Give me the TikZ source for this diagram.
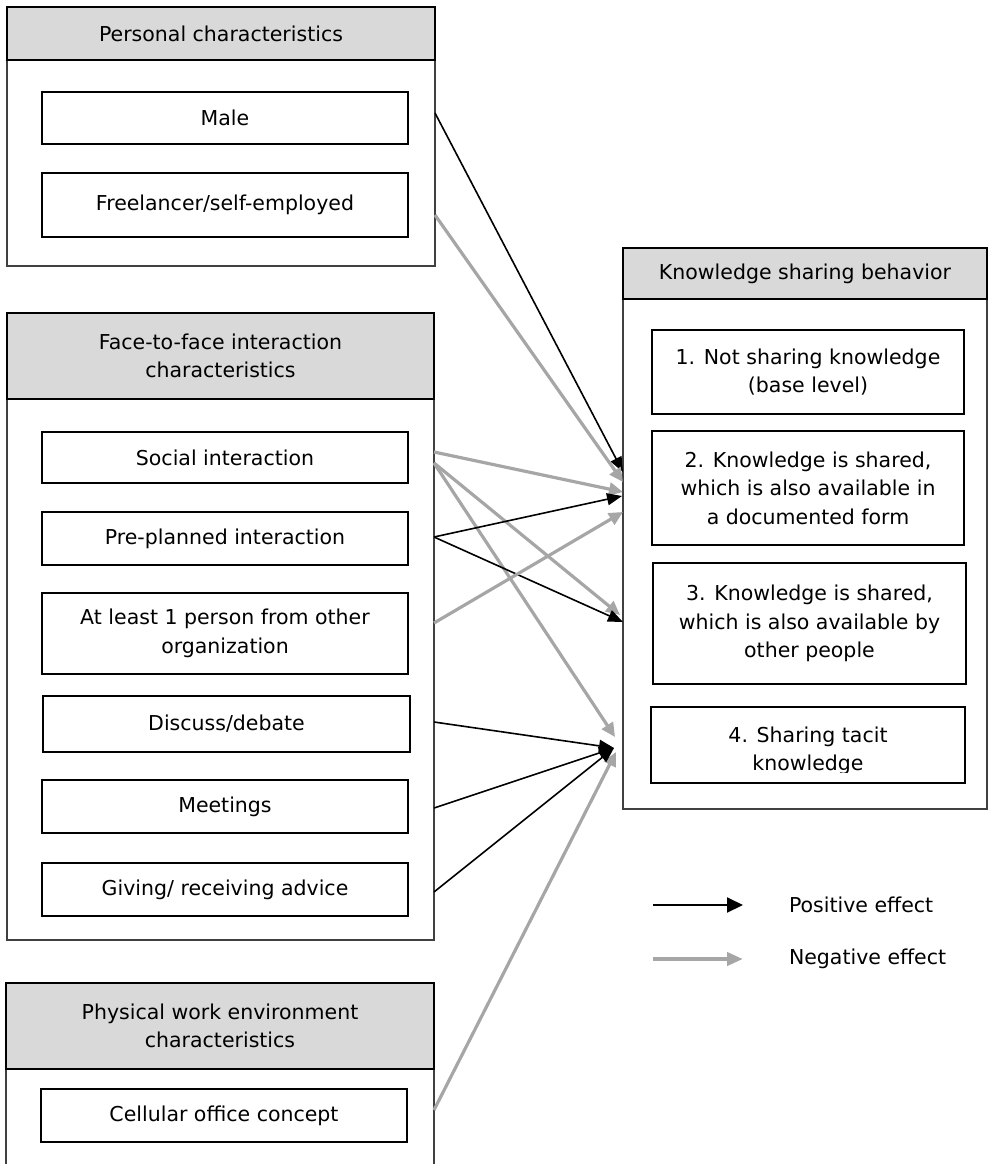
\documentclass[tikz,border=0pt]{standalone}
\usepackage{fontspec}
\setmainfont{DejaVu Sans}
\usetikzlibrary{arrows.meta,calc}
\definecolor{hdrgray}{HTML}{D9D9D9}
\definecolor{arrgray}{HTML}{A6A6A6}
\definecolor{framegray}{HTML}{404040}

\begin{document}
\begin{tikzpicture}[x=1pt,y=-1pt,
  every node/.style={font=\fontsize{20.5pt}{28.5pt}\selectfont, inner sep=0pt, outer sep=0pt},
  group/.style={draw=framegray, line width=1.2pt, rectangle, anchor=north west},
  header/.style={draw=black, line width=2pt, fill=hdrgray, align=center, anchor=north west},
  item/.style={draw=black, line width=2pt, fill=white, align=center, anchor=north west},
  poseffect/.style={draw=black, line width=1.6pt, -{Triangle[length=15pt,width=12pt]}},
  negeffect/.style={draw=arrgray, line width=3.2pt, -{Triangle[length=14pt,width=13pt]}},
]
\useasboundingbox (0,0) rectangle (989,1164);

% ---- Personal characteristics ----
\node[group, minimum width=428pt, minimum height=259pt] (grpP) at (7,7) {};
\node[header, minimum width=428pt, minimum height=53pt] (hdrP) at (7,7) {Personal characteristics};
\node[item, minimum width=366pt, minimum height=52pt] (male) at (42,92) {Male};
\node[item, minimum width=366pt, minimum height=64pt] (free) at (42,173) {Freelancer/self-employed};

% ---- Face-to-face interaction characteristics ----
\node[group, minimum width=427pt, minimum height=627pt] (grpF) at (7,313) {};
\node[header, minimum width=427pt, minimum height=86pt] (hdrF) at (7,313) {Face-to-face interaction\\characteristics};
\node[item, minimum width=366pt, minimum height=51pt] (soc) at (42,432) {Social interaction};
\node[item, minimum width=366pt, minimum height=53pt] (pre) at (42,512) {Pre-planned interaction};
\node[item, minimum width=366pt, minimum height=81pt] (atl) at (42,593) {At least 1 person from other\\organization};
\node[item, minimum width=367pt, minimum height=56pt] (disc) at (43,696) {Discuss/debate};
\node[item, minimum width=366pt, minimum height=53pt] (meet) at (42,780) {Meetings};
\node[item, minimum width=366pt, minimum height=53pt] (give) at (42,863) {Giving/ receiving advice};

% ---- Physical work environment characteristics ----
\node[group, minimum width=428pt, minimum height=200pt] (grpW) at (6,983) {};
\node[header, minimum width=428pt, minimum height=86pt] (hdrW) at (6,983) {Physical work environment\\characteristics};
\node[item, minimum width=366pt, minimum height=53pt] (cell) at (41,1089) {Cellular office concept};

% ---- Knowledge sharing behavior ----
\node[group, minimum width=364pt, minimum height=561pt] (grpK) at (623,248) {};
\node[header, minimum width=364pt, minimum height=51pt] (hdrK) at (623,248) {Knowledge sharing behavior};
\node[item, minimum width=312pt, minimum height=84pt] (k1) at (652,330) {1. Not sharing knowledge\\(base level)};
\node[item, minimum width=312pt, minimum height=114pt] (k2) at (652,431) {2. Knowledge is shared,\\which is also available in\\a documented form};
\node[item, minimum width=313pt, minimum height=121pt] (k3) at (653,563) {3. Knowledge is shared,\\which is also available by\\other people};
\node[item, minimum width=314pt, minimum height=76pt] (k4) at (651,707) {};
\begin{scope}
  % the text frame of the last level is shorter than its box
  \clip (651,707) rectangle (965,772);
  \node[align=center, anchor=center] (k4txt) at ($(k4.center)+(0,6)$) {4. Sharing tacit\\knowledge};
\end{scope}

% ---- connector end points on the group frames ----
\coordinate (sMale) at ($(grpP.east |- male.east)+(0,-5)$);
\coordinate (sFree) at ($(grpP.east |- free.east)+(0,10)$);
\coordinate (sSocA) at ($(grpF.east |- soc.east)+(0,-5.5)$);
\coordinate (sSocB) at ($(grpF.east |- soc.east)+(0,5.5)$);
\coordinate (sPre)  at ($(grpF.east |- pre.east)+(0,-1.5)$);
\coordinate (sAtl)  at ($(grpF.east |- atl.east)+(0,-10.5)$);
\coordinate (sDisc) at ($(grpF.east |- disc.east)+(0,-2)$);
\coordinate (sMeet) at ($(grpF.east |- meet.east)+(0,1.5)$);
\coordinate (sGive) at ($(grpF.east |- give.east)+(0,2.5)$);
\coordinate (sCell) at ($(grpW.east |- cell.east)+(0,-5.5)$);

\coordinate (tMale) at ($(grpK.north west)+(0,224)$);
\coordinate (tFree) at ($(grpK.north west)+(0,234)$);
\coordinate (tSocA) at ($(grpK.north west)+(0,244)$);
\coordinate (tPreA) at ($(grpK.north west)+(-1,248)$);
\coordinate (tAtl)  at ($(grpK.north west)+(0,264)$);
\coordinate (tSocB) at ($(grpK.north west)+(-3,367)$);
\coordinate (tPreB) at ($(grpK.north west)+(0,374)$);
\coordinate (tSocC) at ($(grpK.north west)+(-8,489)$);
\coordinate (tTacit) at ($(grpK.north west)+(-9,500)$);
\coordinate (tCell) at ($(grpK.north west)+(-7,504)$);

% ---- effects ----
\draw[poseffect] (sMale) -- (tMale);
\draw[negeffect] (sFree) -- (tFree);
\draw[negeffect] (sSocA) -- (tSocA);
\draw[negeffect] (sSocB) -- (tSocB);
\draw[negeffect] (sSocB) -- (tSocC);
\draw[negeffect] (sCell) -- (tCell);
\draw[poseffect] (sPre) -- (tPreA);
\draw[poseffect] (sPre) -- (tPreB);
\draw[negeffect] (sAtl) -- (tAtl);
\draw[poseffect] (sDisc) -- (tTacit);
\draw[poseffect] (sMeet) -- (tTacit);
\draw[poseffect] (sGive) -- (tTacit);

% ---- legend ----
\coordinate (lpA) at (653,905);
\coordinate (lpB) at (743,905);
\coordinate (lnA) at (653,959);
\coordinate (lnB) at (743,959);
\draw[poseffect, line width=2pt, -{Triangle[length=16pt,width=15pt]}] (lpA) -- (lpB);
\draw[negeffect, line width=4pt, -{Triangle[length=16pt,width=13pt]}] (lnA) -- (lnB);
\node[anchor=west] (lpos) at (789,905) {Positive effect};
\node[anchor=west] (lneg) at (789,959) {Negative effect};
\end{tikzpicture}
\end{document}
